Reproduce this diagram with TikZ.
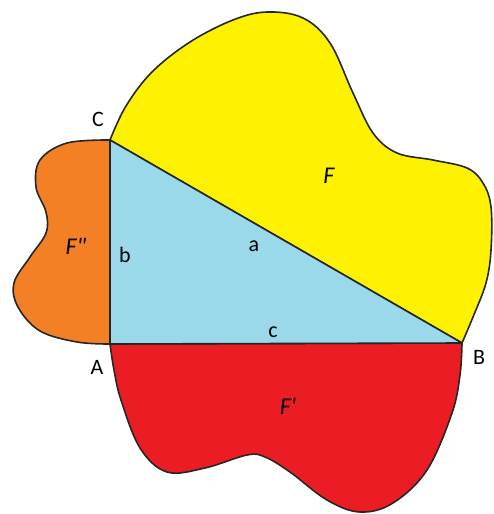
\documentclass[tikz,border=0pt]{standalone}
\usepackage{fontspec}
\setmainfont{Carlito}
\definecolor{fyellow}{RGB}{255,242,0}
\definecolor{fblue}{RGB}{153,217,234}
\definecolor{forange}{RGB}{244,128,38}
\definecolor{fred}{RGB}{236,28,36}
\begin{document}
\begin{tikzpicture}[x=1pt,y=-1pt,
  region/.style={draw=black!85,line width=1.6pt,line join=round},
  lbl/.style={font=\fontsize{22}{24}\selectfont,inner sep=0pt},
  ilbl/.style={font=\fontsize{24}{26}\selectfont\itshape,inner sep=0pt}]
\useasboundingbox (0,0) rectangle (493,514);
\coordinate (C) at (110,140);
\coordinate (A) at (110,344);
\coordinate (B) at (462,343);
% F (yellow)
\draw[region,fill=fyellow] plot[smooth,tension=0.6] coordinates {
 (110,140) (126,106) (152,72) (190,42) (233,20) (267,12) (303,18) (330,43) (353,93)
 (373,133) (397,153) (433,160) (467,168) (483,183) (491,207) (491,250)
 (486,283) (473,317) (462,343)} -- cycle;
% F'' (orange)
\draw[region,fill=forange] plot[smooth,tension=0.6] coordinates {
 (110,140) (67,143) (40,160) (36,187) (46,212) (46,233) (30,257) (14,283)
 (18,307) (40,331) (77,342) (110,344)} -- cycle;
% F' (red)
\draw[region,fill=fred] plot[smooth,tension=0.6] coordinates {
 (110,344) (114,370) (121,400) (140,448) (167,472) (205,468) (247,455)
 (265,457) (290,472) (327,500) (360,512) (393,503) (427,470) (452,413)
 (460,375) (462,343)} -- cycle;
% triangle
\draw[region,fill=fblue] (A) -- (B) -- (C) -- cycle;
% labels
\node[lbl] (lC) at (98,119) {C};
\node[lbl] (lA) at (97,367) {A};
\node[lbl] (lB) at (479,357) {B};
\node[lbl] (la) at (254,246) {a};
\node[lbl] (lb) at (125,255) {b};
\node[lbl] (lc) at (273,332) {c};
\node[ilbl] (lF) at (329,176) {F};
\node[ilbl] (lF2) at (76,246) {F\textquotedbl};
\node[ilbl] (lF1) at (288,406) {F\textquotesingle};
\end{tikzpicture}
\end{document}
